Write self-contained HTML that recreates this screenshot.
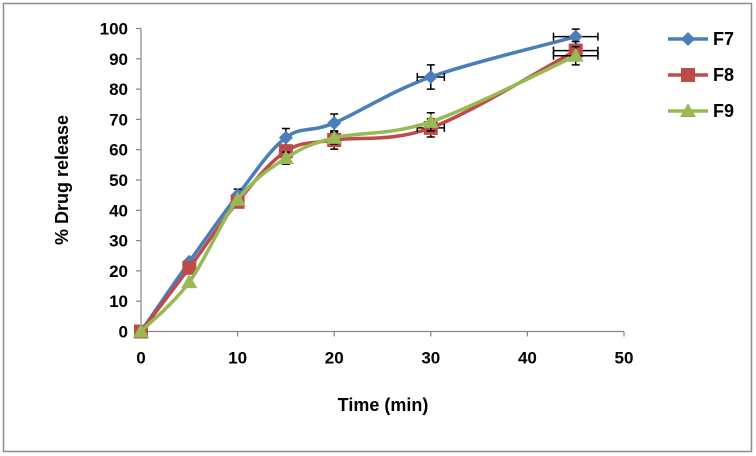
<!DOCTYPE html>
<html><head><meta charset="utf-8"><style>
html,body{margin:0;padding:0;background:#fff;}
svg{display:block;font-family:"Liberation Sans",Arial,sans-serif;font-weight:bold;}
</style></head><body>
<svg id="chart" width="756" height="456" viewBox="0 0 756 456">
<rect x="3.5" y="3.5" width="748" height="448" fill="#fff" stroke="#8c8c8c" stroke-width="1.5"/>
<g id="axes"></g>
<g id="series"></g>
<text x="0" y="0" transform="translate(68,180) rotate(-90)" text-anchor="middle" font-size="18">% Drug release</text>
<text x="383" y="411" text-anchor="middle" font-size="18">Time (min)</text>
<g id="legend"></g>
</svg>
<script>
const times = [0, 5, 10, 15, 20, 30, 45];
const seriesNames = ["F7", "F8", "F9"];
const f7Values = [0, 23, 45, 64, 68.8, 84, 97.3];
const f8Values = [0, 21, 42.8, 59.5, 63.2, 67.2, 92.7];
const f9Values = [0, 16.3, 43.5, 57.2, 63.9, 69.2, 91];
const f7Err = [0, 0, 2, 3, 3, 4, 2.5];
const f8Err = [0, 0, 0, 2, 3, 3, 3];
const f9Err = [0, 0, 0, 2, 2, 3, 3];
const f7XErr = [0, 0, 0, 0, 0, 1.4, 2.3];
const f8XErr = [0, 0, 0, 0, 0, 1.4, 2.3];
const f9XErr = [0, 0, 0, 0, 0, 0, 2.3];
const xTicks = [0, 10, 20, 30, 40, 50];
const yTicks = [0, 10, 20, 30, 40, 50, 60, 70, 80, 90, 100];

const NS = "http://www.w3.org/2000/svg";
const X0 = 141, X1 = 624, Y0 = 331.5, Y1 = 28.5;
function xs(v){ return X0 + (v - 0) / 50 * (X1 - X0); }
function ys(v){ return Y0 - v / 100 * (Y0 - Y1); }
function mk(tag, attrs, parent){ const e = document.createElementNS(NS, tag); for (const k in attrs) e.setAttribute(k, attrs[k]); parent.appendChild(e); return e; }

const axes = document.getElementById("axes");
let yl = mk("line", {x1:X0, y1:Y1, x2:X0, y2:Y0, stroke:"#868686", "stroke-width":1.2}, axes);


let xl = mk("line", {x1:X0, y1:Y0, x2:X1, y2:Y0, stroke:"#868686", "stroke-width":1.2}, axes);


yTicks.forEach(t => {
  const y = ys(t);
  const l = mk("line", {x1:X0-5, y1:y, x2:X0, y2:y, stroke:"#868686", "stroke-width":1.2}, axes);
  
  
  const tx = mk("text", {x:128, y:y+6, "text-anchor":"end", "font-size":17}, axes);
  tx.textContent = t;
  
  
});
xTicks.forEach(t => {
  const x = xs(t);
  const l = mk("line", {x1:x, y1:Y0, x2:x, y2:Y0+5, stroke:"#868686", "stroke-width":1.2}, axes);
  
  
  const tx = mk("text", {x:x, y:Y0+32, "text-anchor":"middle", "font-size":17}, axes);
  tx.textContent = t;
  
  
});

function smoothPath(pts){
  let d = "M" + pts[0][0] + "," + pts[0][1];
  const t = 0.25;
  for (let i = 0; i < pts.length - 1; i++){
    const p0 = pts[i-1] || pts[i], p1 = pts[i], p2 = pts[i+1], p3 = pts[i+2] || p2;
    const c1 = [p1[0] + (p2[0]-p0[0])*t/1.5, p1[1] + (p2[1]-p0[1])*t/1.5];
    const c2 = [p2[0] - (p3[0]-p1[0])*t/1.5, p2[1] - (p3[1]-p1[1])*t/1.5];
    d += " C" + c1[0] + "," + c1[1] + " " + c2[0] + "," + c2[1] + " " + p2[0] + "," + p2[1];
  }
  return d;
}

const seriesData = [
  {name:seriesNames[0], vals:f7Values, err:f7Err, xerr:f7XErr, color:"#4a7ebb", marker:"diamond"},
  {name:seriesNames[1], vals:f8Values, err:f8Err, xerr:f8XErr, color:"#be4b48", marker:"square"},
  {name:seriesNames[2], vals:f9Values, err:f9Err, xerr:f9XErr, color:"#98b954", marker:"triangle"}
];
function marker(type, x, y, color, parent){
  let e;
  if (type === "diamond") e = mk("polygon", {points:`${x},${y-7} ${x+7},${y} ${x},${y+7} ${x-7},${y}`, fill:color}, parent);
  else if (type === "square") e = mk("rect", {x:x-7, y:y-7, width:14, height:14, fill:color}, parent);
  else e = mk("polygon", {points:`${x},${y-8} ${x+8},${y+6} ${x-8},${y+6}`, fill:color}, parent);
  return e;
}
const sg = document.getElementById("series");
seriesData.forEach(s => {
  const g = mk("g", {}, sg);
  
  
  const pts = times.map((t,i) => [xs(t), ys(s.vals[i])]);
  const p = mk("path", {d:smoothPath(pts), fill:"none", stroke:s.color, "stroke-width":3.5, "stroke-linejoin":"round"}, g);
  
  
  times.forEach((t,i) => {
    const x = xs(t), y = ys(s.vals[i]);
    if (s.err[i] > 0){
      const eb = mk("path", {d:`M${x},${ys(s.vals[i]+s.err[i])} V${ys(s.vals[i]-s.err[i])} M${x-4},${ys(s.vals[i]+s.err[i])} h8 M${x-4},${ys(s.vals[i]-s.err[i])} h8`, stroke:"#000", "stroke-width":1.5, fill:"none"}, g);
      
      
    }
    if (s.xerr[i] > 0){
      const xa = xs(t - s.xerr[i]), xb = xs(t + s.xerr[i]);
      const eb = mk("path", {d:`M${xa},${y} H${xb} M${xa},${y-4} v8 M${xb},${y-4} v8`, stroke:"#000", "stroke-width":1.5, fill:"none"}, g);
      
      
    }
    const m = marker(s.marker, x, y, s.color, g);
    
    
  });
});

const lg = document.getElementById("legend");
seriesData.forEach((s, i) => {
  const y = 39 + i * 36;
  const g = mk("g", {}, lg);
  
  
  mk("line", {x1:668, y1:y, x2:708, y2:y, stroke:s.color, "stroke-width":3.5}, g);
  marker(s.marker, 688, y, s.color, g);
  const tx = mk("text", {x:713, y:y+6, "font-size":18}, g);
  tx.textContent = s.name;
});
</script>
</body></html>
